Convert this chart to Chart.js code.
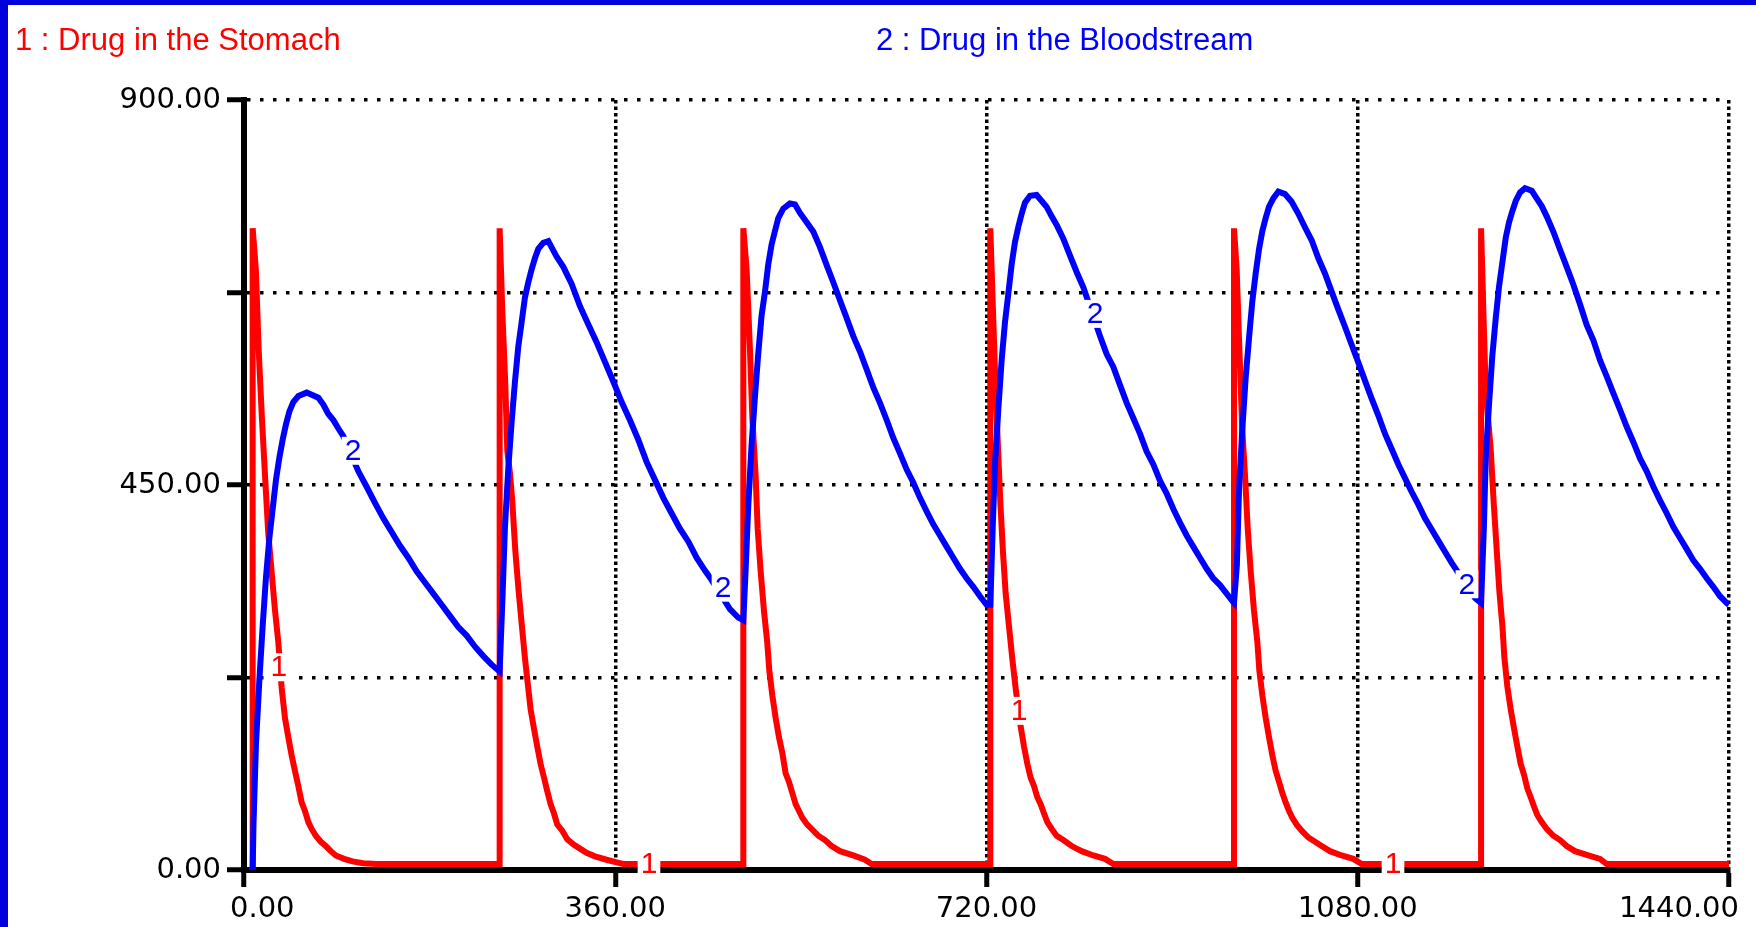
<!DOCTYPE html>
<html><head><meta charset="utf-8">
<script src="https://cdn.jsdelivr.net/npm/chart.js@4/dist/chart.umd.min.js"></script>
<style>html,body{margin:0;padding:0;background:#fff;overflow:hidden}canvas{display:block}</style>
</head><body>
<canvas id="c" width="1756" height="927"></canvas>
<script>
const seriesNames = ['1 : Drug in the Stomach', '2 : Drug in the Bloodstream'];
const seriesMarks = ['1', '2'];
const xTicks = [0, 360, 720, 1080, 1440];
const xTickLabels = ['0.00', '360.00', '720.00', '1080.00', '1440.00'];
const yTicks = [0, 225, 450, 675, 900];
const yTickLabels = ['0.00', '', '450.00', '', '900.00'];

const stomachTime = [
  8.4, 8.4, 11.5, 14.2, 17.3, 20.4, 23.4, 26.8, 30.1, 33.3, 36.5, 39.8, 43.0, 46.2, 49.4, 52.7, 55.9, 59.1, 62.4, 65.6, 69.6, 74.5, 79.3, 84.2, 89.0, 97.1, 105.2, 115.6, 128.6,
  247.9, 247.9, 250.5, 253.4, 255.3, 257.9, 260.2, 263.1, 266.3, 269.5, 272.4, 275.7, 277.9, 281.2, 284.4, 287.6, 290.9, 294.1, 297.3, 300.6, 303.8, 308.6, 313.5, 319.3, 325.8, 332.2, 340.3, 351.6, 361.3, 367.8,
  484.2, 484.2, 487.4, 490.6, 492.9, 496.1, 498.1, 501.0, 504.2, 507.4, 509.4, 512.3, 515.5, 518.8, 522.0, 525.2, 528.5, 531.7, 534.9, 538.2, 541.4, 546.2, 550.4, 556.9, 563.4, 569.8, 577.9, 590.8, 602.1, 608.6,
  723.7, 723.7, 726.3, 728.9, 731.2, 733.4, 735.9, 738.6, 741.8, 745.1, 748.3, 753.1, 756.4, 759.6, 762.8, 766.1, 769.3, 772.5, 775.8, 779.0, 783.2, 788.0, 794.5, 802.6, 812.3, 823.6, 834.9, 843.0,
  960.0, 960.0, 962.6, 965.2, 968.1, 970.7, 973.3, 976.2, 979.4, 982.7, 984.6, 987.5, 990.7, 994.0, 997.2, 1000.4, 1003.7, 1006.9, 1010.1, 1013.4, 1016.6, 1020.8, 1025.6, 1032.1, 1038.6, 1045.0, 1053.1, 1064.4, 1075.7, 1083.8,
  1199.6, 1199.6, 1201.8, 1204.1, 1208.9, 1211.8, 1214.8, 1217.3, 1220.3, 1222.2, 1225.1, 1228.3, 1231.6, 1234.8, 1238.0, 1241.3, 1244.5, 1247.7, 1251.0, 1254.2, 1258.4, 1263.2, 1269.7, 1276.2, 1282.6, 1290.7, 1303.6, 1314.9, 1321.4, 1440
];
const stomachValue = [
  0, 750, 702, 609, 530, 461, 396, 348, 303, 266, 213, 177, 155, 134, 116, 98, 79, 69, 56, 48, 40, 33, 28, 22, 17, 13, 10, 8, 7,
  7, 750, 653, 567, 490, 464, 430, 373, 326, 285, 248, 212, 188, 165, 144, 124, 108, 92, 77, 66, 53, 46, 36, 30, 25, 20, 16, 12, 9, 7,
  7, 750, 702, 609, 530, 461, 399, 349, 303, 266, 233, 204, 178, 155, 137, 113, 103, 90, 77, 69, 61, 53, 48, 40, 35, 28, 22, 17, 12, 7,
  7, 750, 653, 560, 492, 430, 373, 323, 285, 246, 212, 168, 144, 124, 108, 98, 85, 77, 66, 56, 48, 40, 35, 28, 22, 17, 13, 7,
  7, 750, 702, 609, 513, 461, 399, 349, 303, 266, 233, 204, 178, 155, 134, 116, 103, 90, 79, 69, 61, 53, 46, 38, 33, 28, 22, 17, 13, 7,
  7, 750, 653, 560, 492, 430, 373, 326, 285, 248, 214, 188, 165, 144, 124, 111, 95, 85, 74, 64, 56, 48, 40, 35, 28, 22, 17, 13, 7, 7
];

const bloodTime = [
  8.4, 9.2, 11.6, 14.9, 18.1, 21.3, 24.6, 27.8, 31.0, 34.3, 37.5, 40.7, 44.0, 47.8, 52.7, 60.8, 72.1, 76.9, 81.8, 86.6, 91.5, 96.3, 110.9, 118.9, 127.0, 135.1, 143.2, 151.3, 159.3, 167.4, 175.5, 183.6, 191.7, 199.7, 207.8, 215.9, 224.0, 232.1, 240.1,
  247.9, 250.8, 253.0, 256.3, 259.5, 262.7, 266.0, 269.2, 272.4, 275.7, 278.9, 282.1, 285.4, 290.2, 295.1, 303.1, 309.6, 317.7, 325.8, 333.8, 341.9, 350.0, 358.1, 366.2, 374.2, 382.3, 390.4, 398.5, 406.6, 414.6, 422.7, 430.8, 438.9, 447.0, 451.8, 471.2, 479.3,
  484.2, 486.0, 489.0, 492.2, 495.5, 498.7, 501.9, 505.2, 508.4, 511.6, 514.9, 518.1, 522.9, 529.4, 534.3, 539.1, 545.6, 552.1, 558.5, 565.0, 571.4, 577.9, 584.4, 590.8, 597.3, 603.8, 610.2, 616.7, 623.2, 629.6, 636.1, 642.6, 649.0, 655.5, 662.0, 668.4, 674.9, 681.3, 687.8, 694.3, 700.7, 707.2, 713.7, 720.1,
  723.7, 726.0, 728.2, 731.5, 734.7, 737.9, 741.2, 744.4, 747.6, 750.9, 754.1, 757.3, 762.2, 768.6, 773.5, 778.3, 783.2, 788.0, 794.5, 801.0, 807.4, 813.9, 830.1, 836.5, 843.0, 849.4, 855.9, 862.4, 868.8, 875.3, 881.8, 888.2, 894.7, 901.2, 907.6, 914.1, 920.5, 927.0, 933.5, 939.9, 946.4, 952.9, 959.3,
  960.0, 962.8, 964.9, 968.1, 971.3, 974.6, 977.8, 981.0, 984.3, 987.5, 990.7, 993.9, 998.1, 1003.0, 1009.5, 1015.9, 1022.4, 1028.9, 1035.3, 1041.8, 1048.3, 1054.7, 1061.2, 1067.6, 1074.1, 1080.6, 1087.0, 1093.5, 1100.0, 1106.4, 1112.9, 1119.4, 1125.8, 1132.3, 1138.8, 1145.2, 1151.7, 1158.1, 1164.6, 1171.1, 1193.7,
  1199.6, 1202.4, 1204.1, 1207.3, 1210.5, 1213.8, 1217.0, 1220.2, 1223.5, 1226.7, 1229.9, 1233.2, 1237.4, 1242.2, 1248.7, 1253.5, 1258.4, 1263.2, 1269.7, 1276.2, 1282.6, 1289.1, 1295.6, 1302.0, 1308.5, 1314.9, 1321.4, 1327.9, 1334.3, 1340.8, 1347.3, 1353.7, 1360.2, 1366.7, 1373.1, 1379.6, 1386.0, 1392.5, 1399.0, 1405.4, 1411.9, 1418.4, 1424.8, 1431.3, 1437.8, 1440
];
const bloodValue = [
  0, 53, 147, 222, 285, 342, 388, 422, 456, 482, 503, 521, 536, 547, 554, 558, 552, 544, 533, 526, 516, 507, 466, 448, 429, 411, 395, 379, 365, 349, 336, 323, 310, 297, 284, 274, 261, 250, 240,
  232, 323, 400, 470, 523, 570, 612, 640, 669, 687, 702, 715, 726, 733, 735, 717, 705, 685, 659, 638, 617, 594, 571, 547, 526, 503, 477, 456, 435, 417, 399, 384, 365, 350, 342, 305, 295,
  292, 339, 426, 497, 554, 604, 648, 676, 708, 731, 747, 762, 773, 779, 778, 768, 757, 746, 728, 707, 687, 666, 645, 624, 606, 585, 564, 546, 526, 505, 487, 468, 453, 435, 419, 404, 391, 378, 365, 352, 341, 331, 320, 310,
  310, 399, 474, 539, 596, 640, 674, 708, 734, 752, 767, 780, 788, 789, 782, 775, 764, 754, 738, 718, 699, 681, 624, 603, 588, 567, 546, 528, 510, 489, 474, 455, 440, 422, 406, 391, 378, 365, 352, 341, 333, 323, 313,
  312, 357, 445, 516, 575, 622, 665, 697, 726, 747, 762, 775, 785, 793, 790, 781, 767, 751, 736, 715, 697, 676, 655, 635, 614, 593, 572, 551, 531, 510, 492, 474, 458, 442, 427, 411, 398, 385, 372, 359, 318,
  312, 404, 482, 544, 601, 645, 682, 710, 739, 757, 770, 782, 792, 797, 794, 785, 776, 764, 746, 725, 705, 684, 661, 637, 619, 596, 577, 557, 538, 518, 500, 481, 466, 448, 432, 417, 401, 388, 375, 362, 352, 341, 331, 320, 312, 310
];

const stomachMarkTime = [33.9, 392.7, 751.5, 1114.2];
const stomachMarkValue = [237, 7, 186, 7];
const bloodMarkTime = [105.7, 464.5, 825.2, 1185.9];
const bloodMarkValue = [490, 330, 650, 334];

const RED = '#ff0000', BLUE = '#0000ff', FRAME = '#0000dd';

const framePlugin = {
  id: 'frame',
  beforeDraw(chart) {
    const ctx = chart.ctx;
    ctx.save();
    ctx.fillStyle = '#fff';
    ctx.fillRect(0, 0, chart.width, chart.height);
    ctx.fillStyle = FRAME;
    ctx.fillRect(0, 0, 8, chart.height);
    ctx.fillRect(0, 0, chart.width, 5);
    ctx.restore();
  },
  afterDraw(chart) {
    const ctx = chart.ctx;
    ctx.save();
    ctx.font = '31px "Liberation Sans"';
    ctx.textBaseline = 'alphabetic';
    ctx.textAlign = 'left';
    ctx.fillStyle = RED;
    ctx.fillText(chart.data.datasets[0].label, 15, 50);
    ctx.fillStyle = BLUE;
    ctx.fillText(chart.data.datasets[1].label, chart.width / 2 - 2, 50);
    const xs = chart.scales.x;
    ctx.font = '29px "DejaVu Sans"';
    ctx.fillStyle = '#000';
    xTicks.forEach((v, i) => {
      const px = xs.getPixelForValue(v);
      const py = xs.top + 47;
      if (i === 0) { ctx.textAlign = 'left'; ctx.fillText(xTickLabels[i], px - 14, py); }
      else if (i === xTicks.length - 1) { ctx.textAlign = 'right'; ctx.fillText(xTickLabels[i], px + 10, py); }
      else { ctx.textAlign = 'center'; ctx.fillText(xTickLabels[i], px, py); }
    });
    ctx.restore();
  },
  afterDatasetsDraw(chart) {
    const {ctx, scales: {x, y}} = chart;
    ctx.save();
    ctx.font = '30px "Liberation Sans"';
    ctx.textAlign = 'center';
    ctx.textBaseline = 'middle';
    const draw = (ts, vs, txt, color) => {
      const w = ctx.measureText(txt).width + 6;
      ts.forEach((t, i) => {
        const px = x.getPixelForValue(t), py = y.getPixelForValue(vs[i]);
        ctx.fillStyle = '#fff';
        ctx.fillRect(px - w / 2, py - 14, w, 28);
        ctx.fillStyle = color;
        ctx.fillText(txt, px, py + 1);
      });
    };
    draw(stomachMarkTime, stomachMarkValue, seriesMarks[0], RED);
    draw(bloodMarkTime, bloodMarkValue, seriesMarks[1], BLUE);
    ctx.restore();
  }
};

new Chart(document.getElementById('c'), {
  type: 'line',
  data: {
    datasets: [
      {
        label: seriesNames[0],
        data: stomachTime.map((t, i) => ({x: t, y: stomachValue[i]})),
        borderColor: RED, borderWidth: 6, pointRadius: 0, tension: 0, fill: false,
        borderCapStyle: 'butt', borderJoinStyle: 'miter', order: 2
      },
      {
        label: seriesNames[1],
        data: bloodTime.map((t, i) => ({x: t, y: bloodValue[i]})),
        borderColor: BLUE, borderWidth: 6, pointRadius: 0, tension: 0, fill: false,
        borderCapStyle: 'butt', borderJoinStyle: 'miter', order: 1
      }
    ]
  },
  options: {
    responsive: false,
    animation: false,
    devicePixelRatio: 1,
    events: [],
    layout: {padding: {top: 100, right: 27, bottom: 0, left: 0}},
    plugins: {legend: {display: false}, tooltip: {enabled: false}, title: {display: false}},
    scales: {
      x: {
        type: 'linear', min: 0, max: 1440,
        afterBuildTicks: s => { s.ticks = xTicks.map(v => ({value: v})); },
        afterFit: s => { s.height = 57; },
        ticks: {callback: () => '', autoSkip: false},
        grid: {color: '#000', lineWidth: 3.5, tickLength: 17, tickWidth: 5, tickColor: '#000', tickBorderDash: []},
        border: {display: true, color: '#000', width: 6, dash: [3.5, 3]}
      },
      y: {
        type: 'linear', min: 0, max: 900,
        afterBuildTicks: s => { s.ticks = yTicks.map(v => ({value: v})); },
        afterFit: s => { s.width = 244; },
        ticks: {callback: (v, i) => yTickLabels[i], autoSkip: false, color: '#000', padding: 6,
                font: {family: 'DejaVu Sans', size: 29}},
        grid: {color: '#000', lineWidth: 3.5, tickLength: 17, tickWidth: 5, tickColor: '#000', tickBorderDash: []},
        border: {display: true, color: '#000', width: 6, dash: [3.5, 9.5]}
      }
    }
  },
  plugins: [framePlugin]
});
</script>
</body></html>
